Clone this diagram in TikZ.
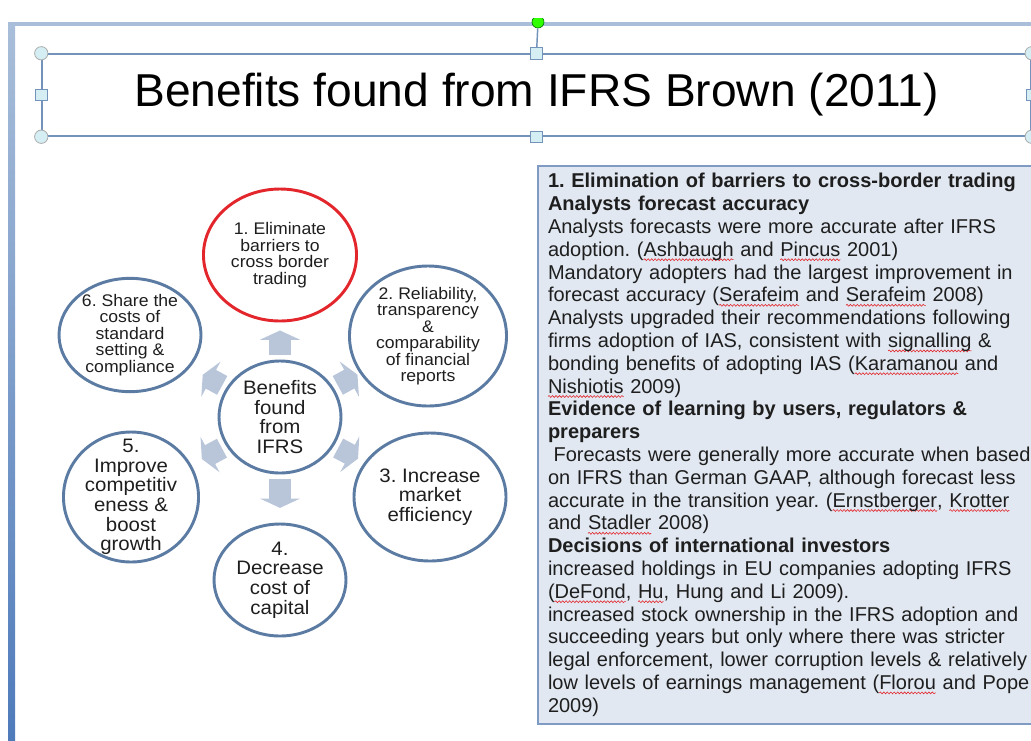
\documentclass[tikz,border=0pt]{standalone}
\usepackage{fontspec}
\setmainfont{Liberation Sans}
\newfontfamily\ringfont[FakeStretch=1.05]{Liberation Sans}
\usetikzlibrary{shapes.geometric,arrows.meta,decorations.pathmorphing}
\frenchspacing

\definecolor{ringblue}{HTML}{5B7BA3}
\definecolor{ringred}{HTML}{E3262C}
\definecolor{arrowfill}{HTML}{B9C6D9}
\definecolor{boxfill}{HTML}{E1E8F1}
\definecolor{boxline}{HTML}{7F9BC4}
\definecolor{selline}{HTML}{7393BA}
\definecolor{slideline}{HTML}{A9BED9}
\definecolor{slidebar}{HTML}{4F7BBB}
\definecolor{handlefill}{HTML}{D4EEF4}
\definecolor{inkdark}{HTML}{1E1E1E}

% red spell-check wave under a word
\newsavebox{\wavebox}
\newlength{\wavelen}
\newcommand{\spellwave}[1]{\leavevmode\sbox{\wavebox}{#1}\setlength{\wavelen}{\wd\wavebox}%
  \rlap{\tikz[overlay,x=1pt,y=1pt]\draw[ringred,line width=0.45pt,decorate,
    decoration={snake,amplitude=0.7pt,segment length=2.6pt}] (0,-2.6) -- (\wavelen,-2.6);}%
  \usebox{\wavebox}}

\begin{document}
\begin{tikzpicture}[x=0.75pt,y=-0.75pt,
    benefit/.style={ellipse,draw=ringblue,line width=2.2pt,align=center,inner sep=0pt,
      text=inkdark,font=\ringfont\fontsize{14.6}{14.7}\selectfont},
    smalltext/.style={font=\ringfont\fontsize{12.6}{12.4}\selectfont},
    flowarrow/.style={draw=arrowfill,line width=16pt,-{Triangle[width=30pt,length=7pt]},shorten <=3.5pt},
    roundhandle/.style={circle,draw=gray!65,fill=handlefill,line width=0.6pt,inner sep=0pt,minimum size=10pt},
    squarehandle/.style={rectangle,draw=selline,fill=handlefill,line width=0.6pt,inner sep=0pt,minimum size=8.5pt},
    panel/.style={anchor=north west,draw=boxline,fill=boxfill,line width=1.5pt,align=left,
      text width=390pt,inner xsep=7.5pt,inner ysep=5.5pt,text=inkdark,
      font=\fontsize{15}{17.1}\selectfont}]
    \useasboundingbox (0,0) rectangle (1031,740);
    \clip (0,0) rectangle (1031,740);

    % Slide edge
    \shade[top color=slideline,bottom color=slidebar] (8,22) rectangle (15,740);
    \fill[slideline] (8,22) rectangle (1031,25.5);

    % Title with its selection frame
    \node[draw=selline,line width=1.1pt,minimum width=741.75pt,minimum height=61.5pt,inner sep=0pt,
      font=\fontsize{34.6}{40}\selectfont] (title) at (536.5,95) {Benefits found from IFRS Brown (2011)};
    \begin{scope}
      \clip (500,18) rectangle (580,60);
      \node[circle,fill=green!75!lime,draw=green!45!black,line width=0.5pt,inner sep=0pt,minimum size=9pt] (rot) at (538,22) {};
    \end{scope}
    \draw[selline,line width=1.1pt] (rot) -- (title.north);
    \foreach \a/\n in {north west/nw,south west/sw,north east/ne,south east/se}
      \node[roundhandle] (h\n) at (title.\a) {};
    \foreach \a/\n in {north/n,south/s,west/w,east/e}
      \node[squarehandle] (h\n) at (title.\a) {};

    % Benefits ring
    \node[benefit,minimum width=91.5pt,minimum height=84pt] (hub) at (280,417) {Benefits\\found\\from\\IFRS};
    \node[benefit,smalltext,draw=ringred,minimum width=114.8pt,minimum height=99pt] (c1) at (280,255)
      {1. Eliminate\\barriers to\\cross border\\trading};
    \node[benefit,smalltext,inner ysep=-4pt,minimum width=117.8pt,minimum height=105pt] (c2) at (428,336)
      {2. Reliability,\\transparency\\\&\\comparability\\of financial\\reports};
    \node[benefit,minimum width=114pt,minimum height=96pt] (c3) at (430,497)
      {3. Increase\\market\\efficiency};
    \node[benefit,minimum width=99pt,minimum height=84pt] (c4) at (280,580)
      {4.\\Decrease\\cost of\\capital};
    \node[benefit,inner ysep=-12pt,minimum width=101.3pt,minimum height=97.5pt] (c5) at (131,497)
      {5.\\Improve\\competitiv\\eness \&\\boost\\growth};
    \node[benefit,smalltext,inner ysep=-4pt,minimum width=106.5pt,minimum height=85pt] (c6) at (130,335)
      {6. Share the\\costs of\\standard\\setting \&\\compliance};

    % Arrows
    \draw[flowarrow,shorten >=6pt] (hub) -- (c1);
    \draw[flowarrow,shorten >=2pt] (hub) -- (c2);
    \draw[flowarrow,shorten >=5.5pt] (hub) -- (c3);
    \draw[flowarrow,shorten >=11pt] (hub) -- (c4);
    \draw[flowarrow,shorten >=9pt] (hub) -- (c5);
    \draw[flowarrow,shorten >=11pt] (hub) -- (c6);

    % Findings
    \node[panel] (panel) at (537,165) {%
      \textbf{1. Elimination of barriers to cross-border trading}\\
      \textbf{Analysts forecast accuracy}\\
      Analysts forecasts were more accurate after IFRS\\
      adoption. (\spellwave{Ashbaugh} and \spellwave{Pincus} 2001)\\
      Mandatory adopters had the largest improvement in\\
      forecast accuracy (\spellwave{Serafeim} and \spellwave{Serafeim} 2008)\\
      Analysts upgraded their recommendations following\\
      firms adoption of IAS, consistent with \spellwave{signalling} \&\\
      bonding benefits of adopting IAS (\spellwave{Karamanou} and\\
      \spellwave{Nishiotis} 2009)\\
      \textbf{Evidence of learning by users, regulators \&}\\
      \textbf{preparers}\\
      \hspace*{0.28em}Forecasts were generally more accurate when based\\
      on IFRS than German GAAP, although forecast less\\
      accurate in the transition year. (\spellwave{Ernstberger}, \spellwave{Krotter}\\
      and \spellwave{Stadler} 2008)\\
      \textbf{Decisions of international investors}\\
      increased holdings in EU companies adopting IFRS\\
      (\spellwave{DeFond}, \spellwave{Hu}, Hung and Li 2009).\\
      increased stock ownership in the IFRS adoption and\\
      succeeding years but only where there was stricter\\
      legal enforcement, lower corruption levels \& relatively\\
      low levels of earnings management (\spellwave{Florou} and Pope\\
      2009)};
  \end{tikzpicture}
\end{document}
